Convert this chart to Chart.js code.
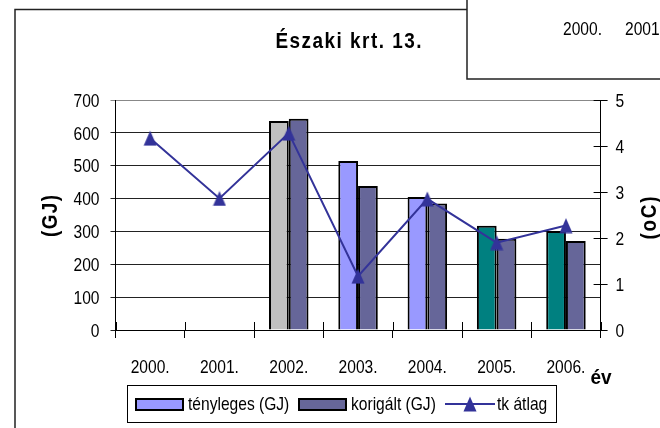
<!DOCTYPE html>
<html><head><meta charset="utf-8">
<script src="https://cdn.jsdelivr.net/npm/chart.js@4.4.0/dist/chart.umd.min.js"></script>
<style>html,body{margin:0;padding:0;background:#fff;}#wrap{width:660px;height:428px;position:relative;}canvas{display:block;}</style>
</head><body><div id="wrap"><canvas id="c" width="660" height="428"></canvas></div>
<script>
// ---- data ----
const categories = ['2000.', '2001.', '2002.', '2003.', '2004.', '2005.', '2006.'];
const tenyleges = [null, null, 636, 514, 405, 317, 301];
const korigalt = [null, null, 643, 438, 385, 278, 271];
const tkAtlag = [4.17, 2.86, 4.28, 1.17, 2.85, 1.90, 2.27];
const tenylegesColors = ['#C0C0C0', '#C0C0C0', '#C0C0C0', '#9999FF', '#9999FF', '#008080', '#008080'];
const seriesLabels = ['tényleges (GJ)', 'korigált (GJ)', 'tk átlag'];
const titleText = 'Északi krt. 13.';
const leftAxisTitle = '(GJ)';
const rightAxisTitle = '(oC)';
const xAxisTitle = 'év';
const overlayLabels = ['2000.', '2001.'];

// ---- styles ----
const FAM = "'Liberation Sans', Arial, sans-serif";
const REG = '19px ' + FAM;
const BOLD = 'bold 22px ' + FAM;
const SX = 0.82; // narrow emulation
const BSX = 0.86;
const LINE_COLOR = '#333399';
const KOR_COLOR = '#666699';
const LEGEND_TEN_COLOR = '#9999FF';

function makeTriangle() {
  const c = document.createElement('canvas');
  c.width = 14; c.height = 16;
  const g = c.getContext('2d');
  g.fillStyle = LINE_COLOR;
  g.beginPath();
  g.moveTo(7, 0.5); g.lineTo(13.5, 15.5); g.lineTo(0.5, 15.5); g.closePath();
  g.fill();
  return c;
}
const tri = makeTriangle();

function txt(ctx, s, x, y, o) {
  const font = o.font || REG, align = o.align || 'left', baseline = o.baseline || 'alphabetic';
  const sx = o.sx || SX;
  ctx.save();
  ctx.translate(x, y);
  if (o.rot) ctx.rotate(o.rot);
  ctx.scale(sx, 1);
  ctx.font = font; ctx.textBaseline = baseline; ctx.textAlign = 'left';
  ctx.fillStyle = o.color || '#000';
  if (!o.width) {
    const w = ctx.measureText(s).width;
    const start = align === 'center' ? -w / 2 : align === 'right' ? -w : 0;
    ctx.fillText(s, start, 0);
  } else {
    const chars = [...s];
    const ws = chars.map(c => ctx.measureText(c).width);
    const sum = ws.reduce((a, b) => a + b, 0);
    const total = o.width / sx;
    const ls = (total - sum) / (chars.length - 1);
    let p = align === 'center' ? -total / 2 : align === 'right' ? -total : 0;
    chars.forEach((c, i) => { ctx.fillText(c, p, 0); p += ws[i] + ls; });
  }
  ctx.restore();
}

const decor = {
  id: 'decor',
  afterDraw(chart) {
    const ctx = chart.ctx;
    const x = chart.scales.x, yl = chart.scales.y, yr = chart.scales.y1;
    const area = chart.chartArea;
    ctx.save();
    // inner parts of crossing tick marks
    ctx.strokeStyle = '#000'; ctx.lineWidth = 1;
    ctx.beginPath();
    for (let i = 0; i <= categories.length; i++) {
      const px = Math.round(area.left + (area.right - area.left) * i / categories.length) + 0.5;
      ctx.moveTo(px, area.bottom - 8); ctx.lineTo(px, area.bottom);
    }
    yr.ticks.forEach(t => {
      const py = Math.round(yr.getPixelForValue(t.value)) + 0.5;
      ctx.moveTo(area.right - 7, py); ctx.lineTo(area.right, py);
    });
    ctx.stroke();

    // tick labels from the library's scales
    x.ticks.forEach((t, i) => {
      txt(ctx, x.getLabelForValue(t.value), x.getPixelForTick(i), 373, { align: 'center' });
    });
    yl.ticks.forEach(t => {
      txt(ctx, t.label, 99.5, yl.getPixelForValue(t.value) + 6.7, { align: 'right' });
    });
    yr.ticks.forEach(t => {
      txt(ctx, t.label, yr.left + 15, yr.getPixelForValue(t.value) + 6.7, { align: 'left' });
    });

    // frames
    ctx.strokeStyle = '#222'; ctx.lineWidth = 1.5;
    ctx.beginPath();
    ctx.moveTo(15, 428); ctx.lineTo(15, 9.5); ctx.lineTo(467, 9.5);
    ctx.stroke();
    ctx.fillStyle = '#fff';
    ctx.fillRect(467, 0, 193, 79);
    ctx.beginPath();
    ctx.moveTo(467, 0); ctx.lineTo(467, 79); ctx.lineTo(660, 79);
    ctx.stroke();
    txt(ctx, overlayLabels[0], 563, 35, {});
    txt(ctx, overlayLabels[1], 625, 35, {});

    // title and axis titles
    txt(ctx, titleText, 348.5, 47.5, { font: BOLD, sx: BSX, align: 'center', width: 146 });
    txt(ctx, leftAxisTitle, 57, 216, { font: BOLD, sx: BSX, align: 'center', width: 42, rot: -Math.PI / 2 });
    txt(ctx, rightAxisTitle, 656, 218, { font: BOLD, sx: BSX, align: 'center', width: 43, rot: -Math.PI / 2 });
    txt(ctx, xAxisTitle, 601, 384, { font: 'bold 20px ' + FAM, sx: 0.95, align: 'center' });

    // legend
    ctx.lineWidth = 1; ctx.strokeStyle = '#000';
    ctx.strokeRect(127.5, 385.5, 429, 37);
    const ly = 404;
    ctx.lineWidth = 2;
    ctx.fillStyle = LEGEND_TEN_COLOR;
    ctx.fillRect(136, 399, 47, 11); ctx.strokeRect(136, 399, 47, 11);
    ctx.fillStyle = KOR_COLOR;
    ctx.fillRect(299, 399, 47, 11); ctx.strokeRect(299, 399, 47, 11);
    ctx.strokeStyle = LINE_COLOR;
    ctx.beginPath(); ctx.moveTo(445, ly); ctx.lineTo(495, ly); ctx.stroke();
    ctx.drawImage(tri, 470 - tri.width / 2, ly - tri.height / 2);
    txt(ctx, seriesLabels[0], 188, 410, {});
    txt(ctx, seriesLabels[1], 351, 410, {});
    txt(ctx, seriesLabels[2], 497, 410, {});
    ctx.restore();
  }
};

new Chart(document.getElementById('c'), {
  type: 'bar',
  data: {
    labels: categories,
    datasets: [
      { type: 'line', label: seriesLabels[2], data: tkAtlag, yAxisID: 'y1', order: 0,
        borderColor: LINE_COLOR, borderWidth: 2, pointStyle: tri, pointRadius: 8,
        backgroundColor: LINE_COLOR, tension: 0, fill: false },
      { label: seriesLabels[0], data: tenyleges, yAxisID: 'y', order: 1,
        backgroundColor: tenylegesColors, borderColor: '#000', borderWidth: 2,
        categoryPercentage: 0.57, barPercentage: 1.0 },
      { label: seriesLabels[1], data: korigalt, yAxisID: 'y', order: 1,
        backgroundColor: KOR_COLOR, borderColor: '#000', borderWidth: 2,
        categoryPercentage: 0.57, barPercentage: 1.0 }
    ]
  },
  options: {
    responsive: false, animation: false, devicePixelRatio: 1,
    layout: { padding: { top: 100, left: 0, right: 0, bottom: 0 } },
    plugins: { legend: { display: false }, title: { display: false }, tooltip: { enabled: false } },
    scales: {
      x: {
        offset: true,
        grid: { offset: true, drawOnChartArea: false, tickLength: 8, color: '#000' },
        border: { color: '#000', width: 1 },
        ticks: { display: false, autoSkip: false },
        afterFit(s) { s.height = 98; }
      },
      y: {
        position: 'left', min: 0, max: 700,
        ticks: { display: false, stepSize: 100 },
        grid: { color: ctx => (ctx.tick && ctx.tick.value === 700) ? '#888' : '#222', lineWidth: 1, tickLength: 5 },
        border: { color: '#000', width: 1 },
        afterFit(s) { s.width = 115.5; }
      },
      y1: {
        position: 'right', min: 0, max: 5,
        ticks: { display: false, stepSize: 1 },
        grid: { drawOnChartArea: false, tickLength: 7, color: '#000' },
        border: { color: '#000', width: 1 },
        afterFit(s) { s.width = 59.4; }
      }
    }
  },
  plugins: [decor]
});
</script>
</body></html>
